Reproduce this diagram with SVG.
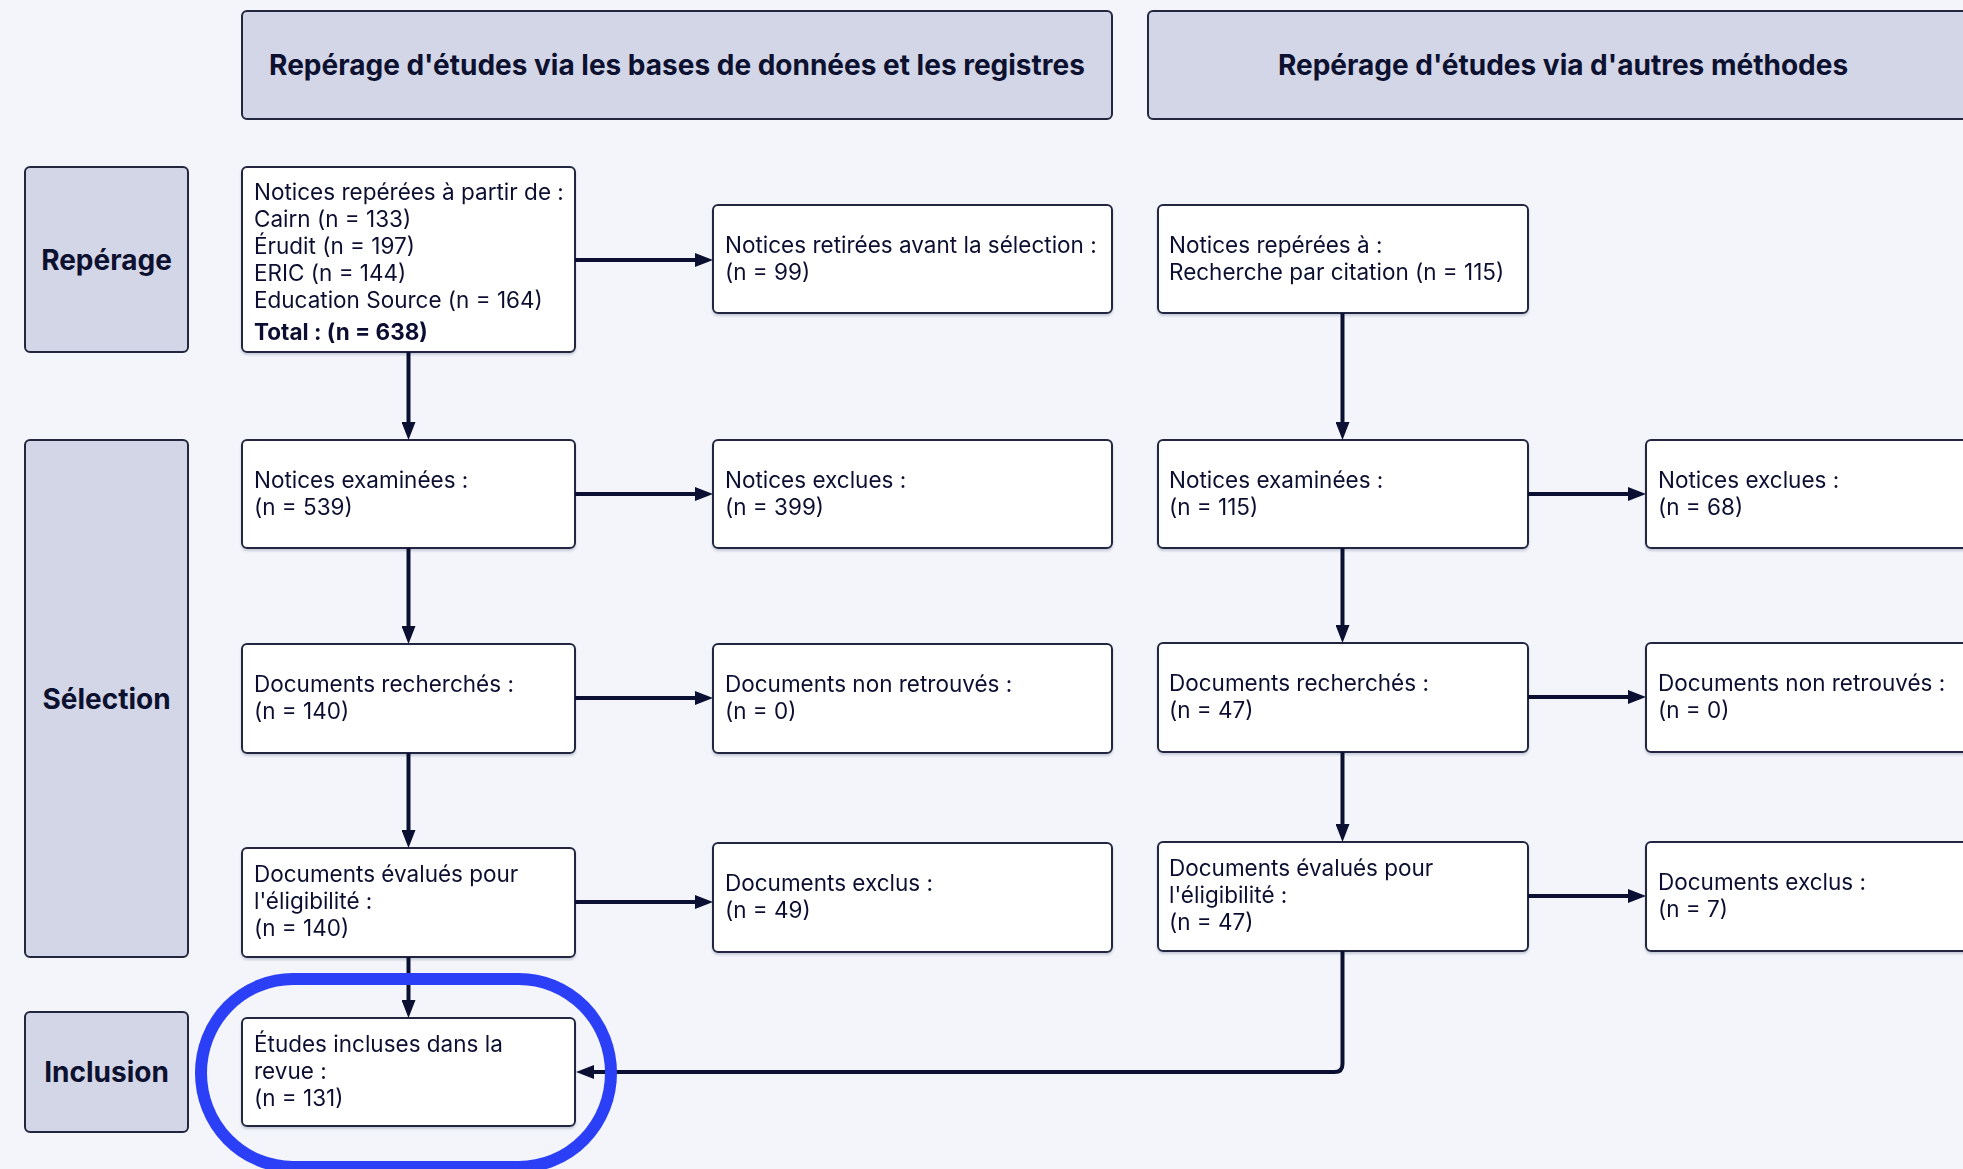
<svg xmlns="http://www.w3.org/2000/svg" width="1963" height="1169" viewBox="0 0 1963 1169">
  <style>
    .bg { fill: #f3f5fa; }
    .hdr { fill: #d3d6e7; stroke: #22263f; stroke-width: 2; }
    .box { fill: #ffffff; stroke: #22263f; stroke-width: 2; }
    .t { font-family: Inter, "Liberation Sans", sans-serif; font-size: 22.5px; fill: #0d1130; }
    .tb { font-family: Inter, "Liberation Sans", sans-serif; font-size: 22.5px; font-weight: 700; fill: #0d1130; }
    .ht { font-family: Inter, "Liberation Sans", sans-serif; font-size: 28px; font-weight: 700; fill: #0d1130; text-anchor: middle; }
    .lt { font-family: Inter, "Liberation Sans", sans-serif; font-size: 28px; font-weight: 700; fill: #0d1130; text-anchor: middle; }
    .c { fill: none; stroke: #0b1033; stroke-width: 4; marker-end: url(#arr); }
    .hl { fill: none; stroke: #2b40f6; stroke-width: 12; }
  </style>
  <defs>
    <marker id="arr" viewBox="0 0 18 14" refX="8" refY="7" markerWidth="18" markerHeight="14" markerUnits="userSpaceOnUse" orient="auto">
      <path d="M0,0 L18,7 L0,14 z" fill="#0b1033"/>
    </marker>
    <filter id="sh" x="-5%" y="-5%" width="110%" height="120%">
      <feDropShadow dx="0" dy="2" stdDeviation="1" flood-color="#9aa0b8" flood-opacity="0.5"/>
    </filter>
  </defs>

  <rect class="bg" x="0" y="0" width="1963" height="1169"/>

  <!-- Headers -->
  <g id="header-db">
    <rect class="hdr" x="242" y="11" width="870" height="108" rx="5"/>
    <text class="ht" x="677" y="75">Repérage d'études via les bases de données et les registres</text>
  </g>
  <g id="header-other">
    <rect class="hdr" x="1148" y="11" width="840" height="108" rx="5"/>
    <text class="ht" x="1563" y="75">Repérage d'études via d'autres méthodes</text>
  </g>

  <!-- Phase labels -->
  <g id="label-reperage">
    <rect class="hdr" x="25" y="167" width="163" height="185" rx="5"/>
    <text class="lt" x="106.5" y="270">Repérage</text>
  </g>
  <g id="label-selection">
    <rect class="hdr" x="25" y="440" width="163" height="517" rx="5"/>
    <text class="lt" x="106.5" y="709">Sélection</text>
  </g>
  <g id="label-inclusion">
    <rect class="hdr" x="25" y="1012" width="163" height="120" rx="5"/>
    <text class="lt" x="106.5" y="1082">Inclusion</text>
  </g>

  <!-- Left column -->
  <g id="n-identified-db" filter="url(#sh)">
    <rect class="box" x="242" y="167" width="333" height="185" rx="5"/>
    <text class="t" x="254" y="200">Notices repérées à partir de :</text>
    <text class="t" x="254" y="227">Cairn (n = 133)</text>
    <text class="t" x="254" y="254">Érudit (n = 197)</text>
    <text class="t" x="254" y="281">ERIC (n = 144)</text>
    <text class="t" x="254" y="308">Education Source (n = 164)</text>
    <text class="tb" x="254" y="340">Total : (n = 638)</text>
  </g>
  <g id="n-removed" filter="url(#sh)">
    <rect class="box" x="713" y="205" width="399" height="108" rx="5"/>
    <text class="t" x="725" y="253">Notices retirées avant la sélection :</text>
    <text class="t" x="725" y="280">(n = 99)</text>
  </g>
  <g id="n-screened-db" filter="url(#sh)">
    <rect class="box" x="242" y="440" width="333" height="108" rx="5"/>
    <text class="t" x="254" y="488">Notices examinées :</text>
    <text class="t" x="254" y="515">(n = 539)</text>
  </g>
  <g id="n-excluded-db" filter="url(#sh)">
    <rect class="box" x="713" y="440" width="399" height="108" rx="5"/>
    <text class="t" x="725" y="488">Notices exclues :</text>
    <text class="t" x="725" y="515">(n = 399)</text>
  </g>
  <g id="n-sought-db" filter="url(#sh)">
    <rect class="box" x="242" y="644" width="333" height="109" rx="5"/>
    <text class="t" x="254" y="692">Documents recherchés :</text>
    <text class="t" x="254" y="719">(n = 140)</text>
  </g>
  <g id="n-notretrieved-db" filter="url(#sh)">
    <rect class="box" x="713" y="644" width="399" height="109" rx="5"/>
    <text class="t" x="725" y="692">Documents non retrouvés :</text>
    <text class="t" x="725" y="719">(n = 0)</text>
  </g>
  <g id="n-assessed-db" filter="url(#sh)">
    <rect class="box" x="242" y="848" width="333" height="109" rx="5"/>
    <text class="t" x="254" y="882">Documents évalués pour</text>
    <text class="t" x="254" y="909">l'éligibilité :</text>
    <text class="t" x="254" y="936">(n = 140)</text>
  </g>
  <g id="n-docexcluded-db" filter="url(#sh)">
    <rect class="box" x="713" y="843" width="399" height="109" rx="5"/>
    <text class="t" x="725" y="891">Documents exclus :</text>
    <text class="t" x="725" y="918">(n = 49)</text>
  </g>
  <g id="n-included" filter="url(#sh)">
    <rect class="box" x="242" y="1018" width="333" height="108" rx="5"/>
    <text class="t" x="254" y="1052">Études incluses dans la</text>
    <text class="t" x="254" y="1079">revue :</text>
    <text class="t" x="254" y="1106">(n = 131)</text>
  </g>

  <!-- Right column -->
  <g id="n-identified-other" filter="url(#sh)">
    <rect class="box" x="1158" y="205" width="370" height="108" rx="5"/>
    <text class="t" x="1169" y="253">Notices repérées à :</text>
    <text class="t" x="1169" y="280">Recherche par citation (n = 115)</text>
  </g>
  <g id="n-screened-other" filter="url(#sh)">
    <rect class="box" x="1158" y="440" width="370" height="108" rx="5"/>
    <text class="t" x="1169" y="488">Notices examinées :</text>
    <text class="t" x="1169" y="515">(n = 115)</text>
  </g>
  <g id="n-excluded-other" filter="url(#sh)">
    <rect class="box" x="1646" y="440" width="400" height="108" rx="5"/>
    <text class="t" x="1658" y="488">Notices exclues :</text>
    <text class="t" x="1658" y="515">(n = 68)</text>
  </g>
  <g id="n-sought-other" filter="url(#sh)">
    <rect class="box" x="1158" y="643" width="370" height="109" rx="5"/>
    <text class="t" x="1169" y="691">Documents recherchés :</text>
    <text class="t" x="1169" y="718">(n = 47)</text>
  </g>
  <g id="n-notretrieved-other" filter="url(#sh)">
    <rect class="box" x="1646" y="643" width="400" height="109" rx="5"/>
    <text class="t" x="1658" y="691">Documents non retrouvés :</text>
    <text class="t" x="1658" y="718">(n = 0)</text>
  </g>
  <g id="n-assessed-other" filter="url(#sh)">
    <rect class="box" x="1158" y="842" width="370" height="109" rx="5"/>
    <text class="t" x="1169" y="876">Documents évalués pour</text>
    <text class="t" x="1169" y="903">l'éligibilité :</text>
    <text class="t" x="1169" y="930">(n = 47)</text>
  </g>
  <g id="n-docexcluded-other" filter="url(#sh)">
    <rect class="box" x="1646" y="842" width="400" height="109" rx="5"/>
    <text class="t" x="1658" y="890">Documents exclus :</text>
    <text class="t" x="1658" y="917">(n = 7)</text>
  </g>

  <!-- Connectors -->
  <g id="connectors">
    <path class="c" d="M575,260 H703"/>
    <path class="c" d="M408.5,352 V430"/>
    <path class="c" d="M575,494 H703"/>
    <path class="c" d="M408.5,548 V634"/>
    <path class="c" d="M575,698 H703"/>
    <path class="c" d="M408.5,753 V838"/>
    <path class="c" d="M575,902 H703"/>
    <path class="c" d="M408.5,957 V1008"/>
    <path class="c" d="M1342.5,313 V430"/>
    <path class="c" d="M1528,494 H1636"/>
    <path class="c" d="M1342.5,548 V633"/>
    <path class="c" d="M1528,697 H1636"/>
    <path class="c" d="M1342.5,752 V832"/>
    <path class="c" d="M1528,896 H1636"/>
    <path class="c" d="M1342.5,951 V1064 Q1342.5,1072 1334.5,1072 H586"/>
  </g>

  <!-- Highlight -->
  <rect class="hl" x="201" y="979" width="410" height="188" rx="92" ry="94"/>
</svg>
